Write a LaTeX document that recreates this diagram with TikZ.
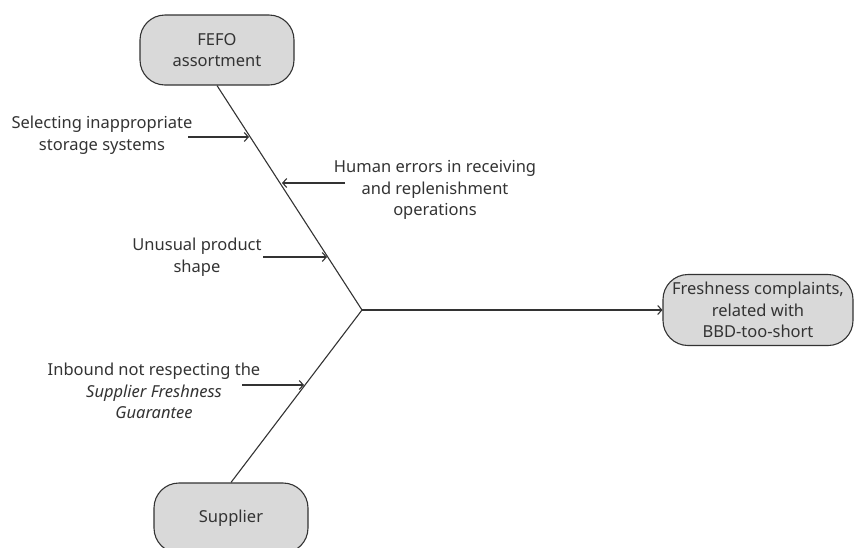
\documentclass[tikz,border=0pt]{standalone}
\usepackage{fontspec}
\setmainfont{Noto Sans}
\usepackage{xcolor}
\usetikzlibrary{arrows.meta,positioning}
\definecolor{boxfill}{HTML}{D9D9D9}
\definecolor{inkgray}{HTML}{333333}

\begin{document}
\begin{tikzpicture}[
    x=1pt, y=-1pt,
    >={Straight Barb[length=4pt, width=9pt]},
    every node/.style={text=inkgray, font=\fontsize{16.5}{21.5}\selectfont},
    category/.style={draw=inkgray, fill=boxfill, rounded corners=25pt, align=center, minimum width=154pt, minimum height=70pt, line width=1.1pt},
    cause/.style={align=center, inner sep=0pt},
    spine/.style={draw=inkgray, line width=1.1pt},
    line/.style={->, draw=inkgray, line width=1.1pt}
]
\useasboundingbox (0,0) rectangle (855,547);

% Categories and effect.
\node[category] (fefo) at (217,50) {FEFO\\assortment};
\node[category] (supplier) at (231,518) {Supplier};
\node[category, minimum width=190pt, minimum height=71pt] (effect) at (758,310) {Freshness complaints,\\related with\\BBD-too-short};
\coordinate (junction) at (362,310);

% Fish bones.
\draw[spine] (fefo.south) -- (junction);
\draw[spine] (junction) -- (supplier.north);
\draw[line] (junction) -- (effect.west);

% Causes.
\node[cause] (storage) at (102,135) {Selecting inappropriate\\storage systems};
\node[cause] (human) at (435,190) {Human errors in receiving\\and replenishment\\operations};
\node[cause] (shape) at (197,257) {Unusual product\\shape};
\node[cause] (inbound) at (154,391) {Inbound not respecting the\\\textit{Supplier Freshness}\\\textit{Guarantee}};

% Arrow ends on the bones.
\coordinate (storage-tail) at (188,137);
\coordinate (storage-head) at (249,137);
\coordinate (human-tail) at (345,183);
\coordinate (human-head) at (282,183);
\coordinate (shape-tail) at (263,257);
\coordinate (shape-head) at (327,257);
\coordinate (inbound-tail) at (242,385);
\coordinate (inbound-head) at (304,385);

\draw[line] (storage-tail) -- (storage-head);
\draw[line] (human-tail) -- (human-head);
\draw[line] (shape-tail) -- (shape-head);
\draw[line] (inbound-tail) -- (inbound-head);

\end{tikzpicture}
\end{document}
